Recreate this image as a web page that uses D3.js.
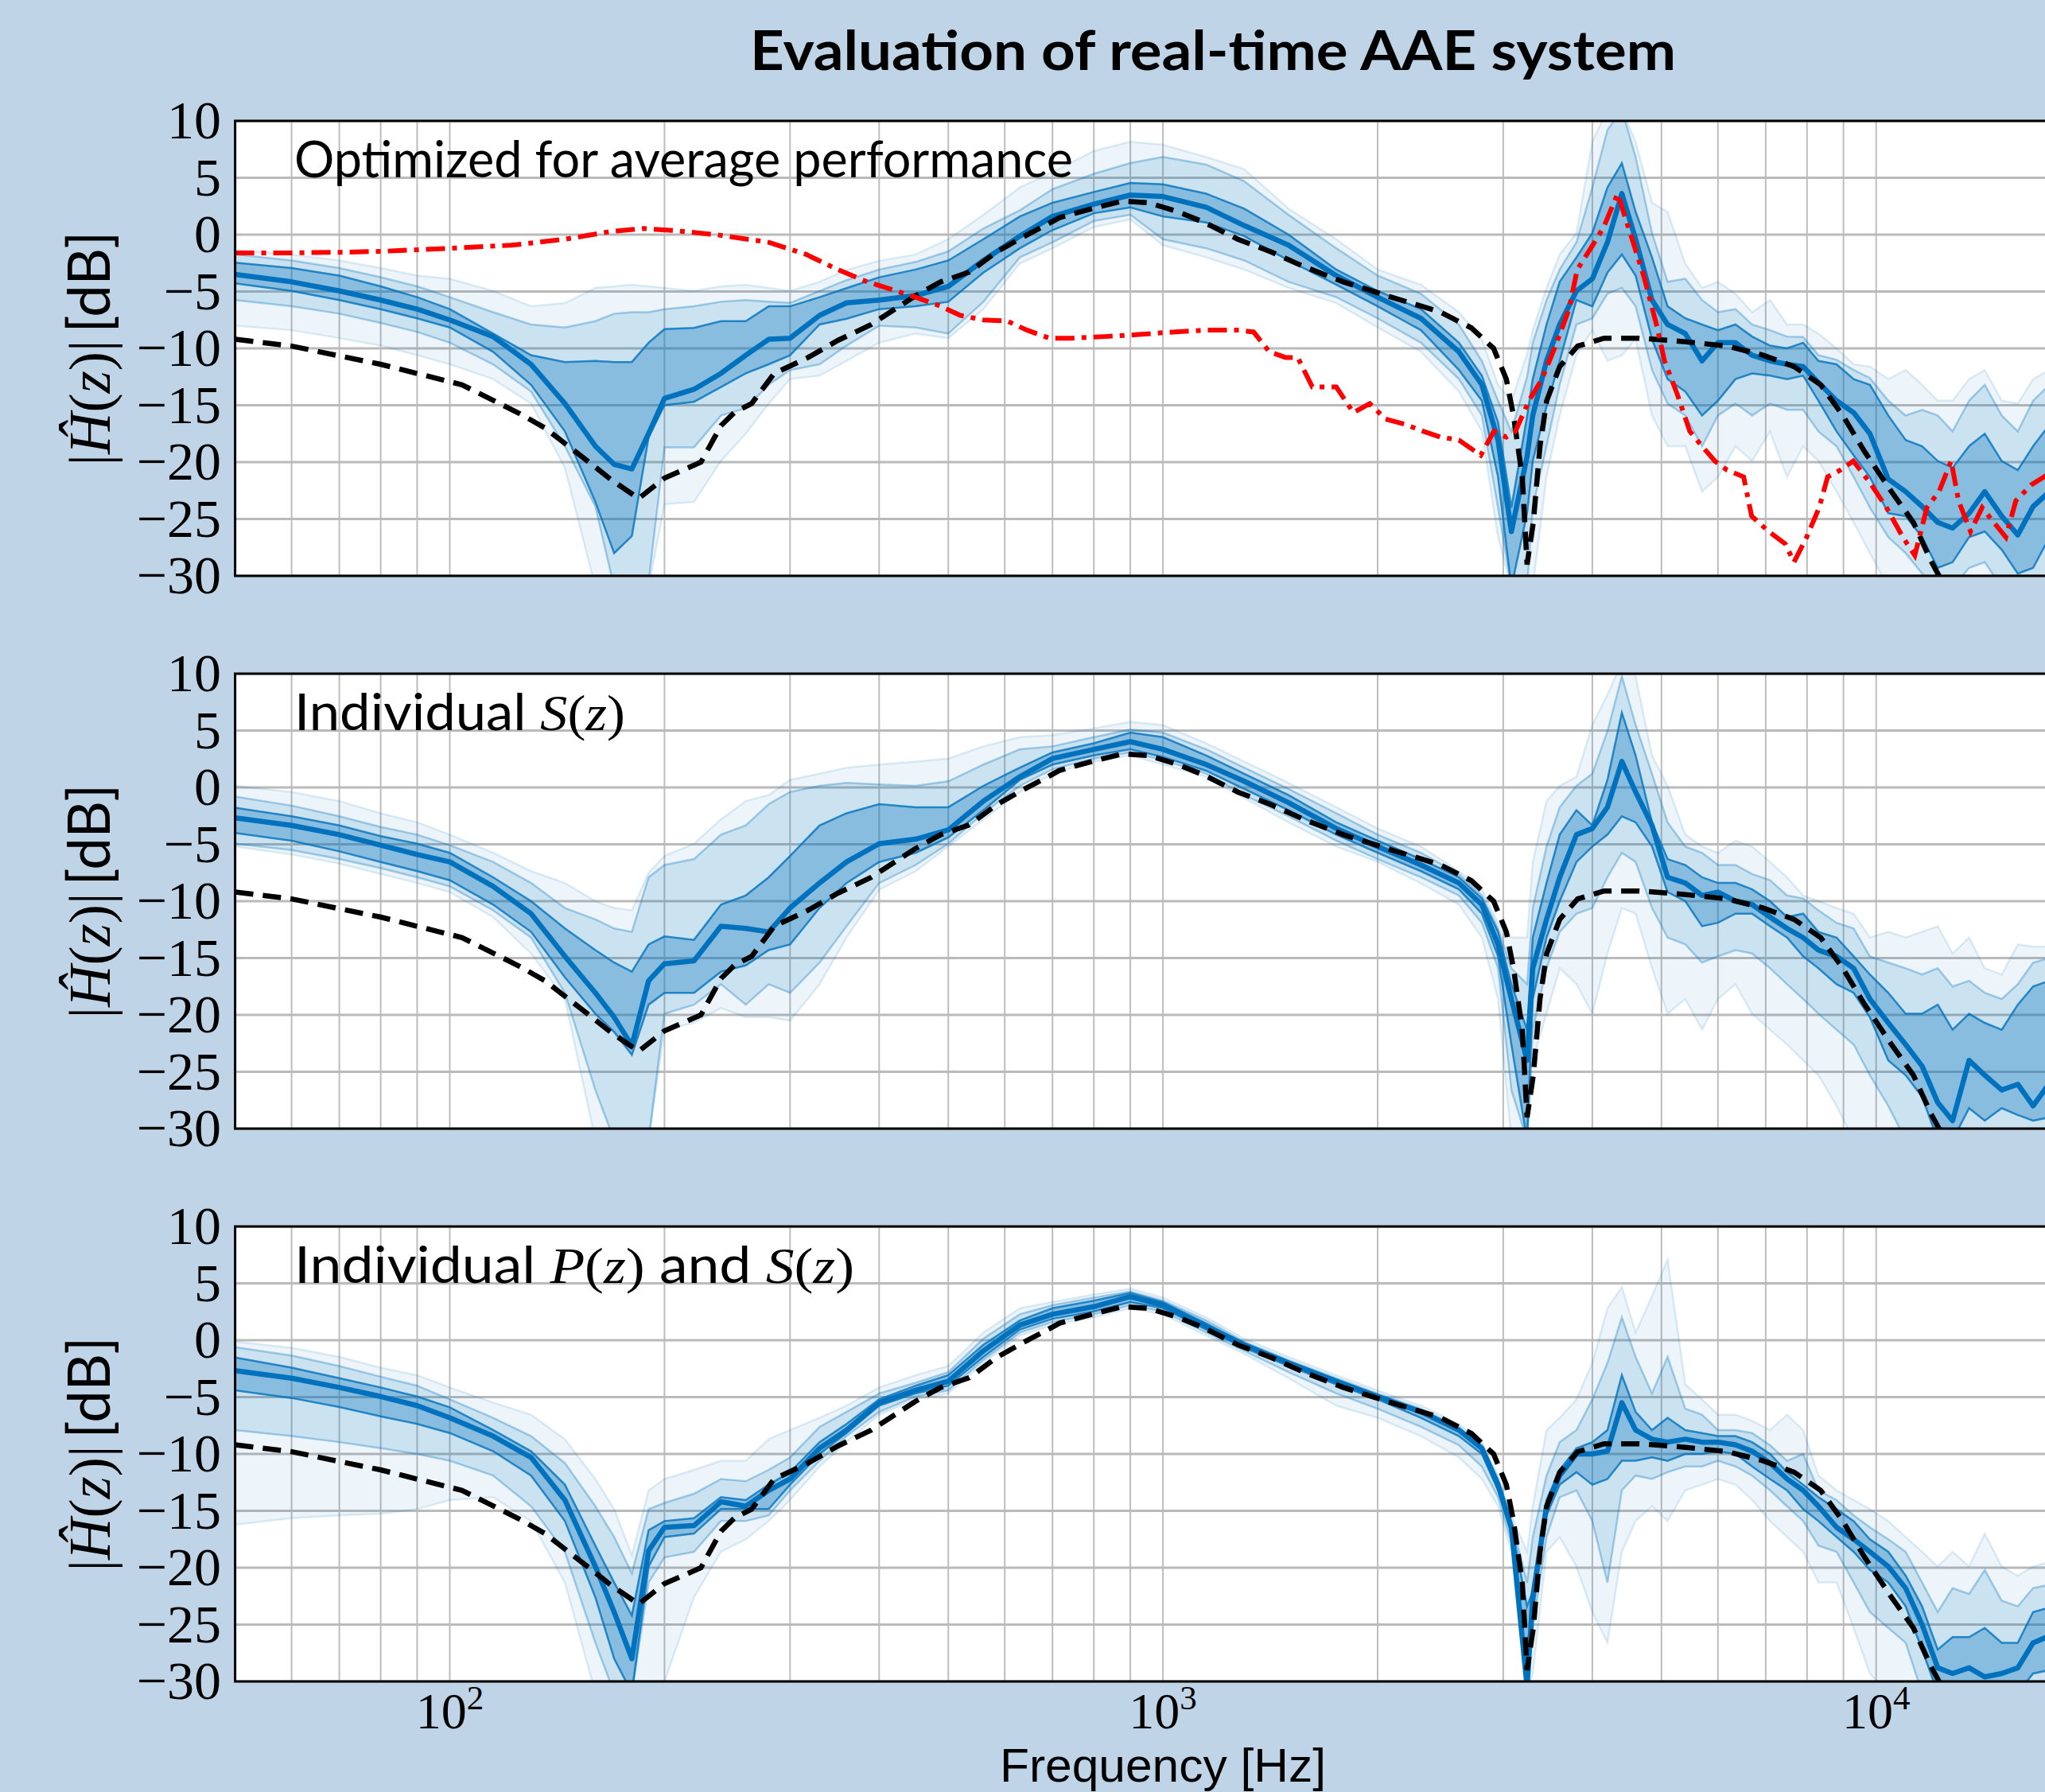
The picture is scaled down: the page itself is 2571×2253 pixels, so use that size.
<!DOCTYPE html>
<html>
<head>
<meta charset="utf-8">
<title>Evaluation of real-time AAE system</title>
<script src="https://cdn.jsdelivr.net/npm/d3@7"></script>
<style>
  body { margin: 0; background: #bfd4e7; }
  svg { display: block; }
</style>
</head>
<body>
<script>
// frequency grid shared by the median / percentile bands [Hz]
var freq = [50, 60, 70, 80, 90, 100, 115, 130, 145, 160,
    170, 180, 190, 200, 220, 240, 260, 280, 300, 330,
    360, 400, 450, 500, 560, 630, 700, 800, 900, 1000,
    1150, 1300, 1500, 1750, 2000, 2300, 2600, 2800, 2950, 3080,
    3240, 3300, 3450, 3600, 3800, 4000, 4200, 4400, 4600, 4850,
    5100, 5400, 5700, 6000, 6350, 6700, 7100, 7500, 7900, 8300,
    8800, 9300, 9800, 10400, 11000, 11600, 12200, 12800, 13500, 14200,
    15000, 15800, 16600, 17500, 18500];

// top panel: optimized for average performance [dB]
var topMedian = [-3.5, -4.15, -4.95, -5.75, -6.55, -7.5, -8.96, -11.4, -14.85, -18.6,
    -20.2, -20.6, -17.5, -14.4, -13.6, -12.2, -10.6, -9.2, -9.1, -7.1,
    -6.0, -5.75, -5.35, -4.55, -2.27, -0.13, 1.6, 2.68, 3.48, 3.35,
    2.4, 0.8, -0.93, -3.6, -5.5, -7.36, -10.3, -13.2, -18.06, -26.1,
    -19.5, -15.9, -11.1, -7.9, -4.95, -3.88, -0.67, 3.61, -0.4, -5.75,
    -7.9, -8.7, -11.1, -9.5, -9.5, -10.6, -11.1, -11.4, -11.6, -13.0,
    -14.6, -15.65, -17.5, -21.5, -22.6, -23.9, -25.3, -25.8, -24.5, -22.6,
    -24.75, -26.4, -23.9, -22.6, -22.0];
var topInnerHi = [-2.46, -2.94, -3.6, -4.55, -5.5, -6.55, -8.7, -10.6, -11.2, -11.1,
    -11.2, -11.2, -9.5, -8.3, -8.2, -7.6, -7.6, -6.3, -6.3, -5.5,
    -4.7, -3.75, -3.07, -2.27, -0.4, 1.6, 2.8, 3.75, 4.55, 4.42,
    3.6, 2.28, 0.0, -3.07, -4.95, -6.55, -9.5, -12.4, -16.5, -24.0,
    -16.0, -12.7, -7.9, -4.15, -2.0, 0.14, 4.15, 6.29, 2.01, -2.0,
    -6.3, -7.36, -7.9, -8.4, -7.9, -8.96, -9.76, -10.0, -9.5, -11.1,
    -11.4, -12.7, -13.2, -15.9, -18.06, -18.6, -19.9, -20.5, -18.6, -17.5,
    -19.9, -20.7, -18.6, -16.7, -16.5];
var topInnerLo = [-4.28, -4.95, -5.75, -6.55, -7.36, -8.16, -10.3, -13.2, -17.3, -23.5,
    -28.0, -26.5, -17.8, -15.0, -14.7, -13.4, -12.2, -11.4, -10.6, -7.9,
    -7.4, -6.55, -6.3, -5.9, -3.34, -1.2, 0.4, 1.88, 2.4, 1.6,
    1.07, -0.13, -2.27, -4.4, -6.3, -8.4, -11.9, -14.6, -21.3, -31,
    -24.5, -19.9, -15.1, -11.1, -5.75, -6.3, -3.34, -1.74, -3.6, -9.2,
    -12.7, -13.8, -15.9, -14.6, -12.7, -12.2, -12.4, -12.7, -12.4, -14.6,
    -17.3, -19.4, -21.3, -24.5, -24.75, -26.6, -29.3, -28.8, -26.6, -26.1,
    -27.7, -29.8, -29.3, -26.6, -26.5];
var topMidHi = [-1.74, -2.27, -2.94, -3.74, -4.55, -5.5, -6.82, -7.9, -8.16, -7.6,
    -6.95, -6.82, -6.82, -6.55, -6.3, -5.9, -5.75, -5.9, -6.0, -4.95,
    -4.0, -3.07, -2.4, -1.47, 0.54, 2.14, 4.0, 5.35, 6.29, 6.83,
    6.16, 4.69, 1.74, -1.2, -3.6, -5.2, -7.9, -11.1, -14.6, -17.3,
    -12.5, -9.5, -5.75, -3.07, -0.67, 4.15, 9.2, 11, 6.83, 0.14,
    -4.15, -3.88, -5.75, -6.82, -6.55, -7.9, -8.4, -8.96, -9.0, -10.6,
    -11.0, -11.9, -12.6, -14.6, -15.9, -15.4, -15.9, -17.3, -14.6, -13.2,
    -15.9, -17.3, -14.6, -13.2, -13];
var topMidLo = [-5.75, -6.3, -6.95, -7.76, -8.56, -9.5, -11.4, -13.8, -18.6, -23.9,
    -31, -31, -30.5, -18.7, -18.7, -15.9, -15.25, -13.2, -11.9, -11.4,
    -9.76, -8.0, -8.16, -8.7, -5.9, -2.0, -0.67, 1.2, 1.74, -0.4,
    -1.2, -2.27, -4.15, -5.5, -7.36, -9.5, -12.7, -15.9, -24.0, -31,
    -31, -24.0, -18.6, -13.2, -7.9, -7.36, -5.2, -4.68, -6.3, -11.9,
    -14.85, -15.9, -18.6, -15.9, -14.85, -15.9, -14.85, -15.4, -15.4, -17.3,
    -18.6, -21.3, -24.0, -26.6, -28.0, -29.8, -31, -31, -29.3, -28.8,
    -31, -31, -31, -30.5, -31];
var topOuterHi = [-1.34, -1.74, -2.27, -2.94, -3.6, -3.88, -4.95, -6.3, -6.02, -4.68,
    -4.55, -4.4, -4.55, -4.68, -4.95, -4.55, -4.4, -4.68, -4.95, -4.15,
    -3.1, -2.3, -1.74, -0.4, 1.74, 4.15, 5.49, 7.36, 8.16, 7.9,
    6.83, 5.76, 2.28, -0.4, -3.07, -4.4, -6.82, -9.2, -13.2, -14.6,
    -10.5, -8.4, -4.68, -1.74, 0.14, 8.16, 11, 11, 8.16, 2.81,
    2.0, -2.54, -4.68, -4.15, -5.2, -6.82, -5.75, -7.9, -7.9, -8.7,
    -10.0, -11.4, -11.6, -12.7, -11.9, -13.2, -14.6, -14.6, -12.7, -11.9,
    -14.6, -14.85, -12.7, -11.9, -12];
var topOuterLo = [-8.0, -8.4, -9.1, -9.76, -10.6, -11.4, -12.7, -14.85, -20.5, -31,
    -31, -31, -31, -23.7, -23.5, -19.9, -17.5, -14.85, -12.7, -12.4,
    -11.1, -9.5, -8.7, -9.1, -6.55, -2.54, -1.2, 0.67, 1.34, -0.93,
    -2.0, -3.07, -4.68, -6.02, -8.16, -10.3, -13.8, -17.3, -26.6, -31,
    -31, -31, -21.3, -15.9, -10.6, -8.4, -11.1, -10.6, -9.2, -15.9,
    -18.6, -18.6, -22.6, -21.3, -18.6, -19.9, -17.3, -21.3, -18.6, -19.9,
    -22.6, -25.3, -28.0, -31, -31, -31, -31, -31, -31, -31,
    -31, -31, -31, -31, -31];

// middle panel: individual S(z)
var midMedian = [-2.67, -3.34, -4.15, -5.08, -5.9, -6.55, -8.7, -11.1, -14.85, -18.06,
    -20.2, -22.7, -17.0, -15.5, -15.25, -12.2, -12.4, -12.7, -10.6, -8.4,
    -6.55, -4.95, -4.55, -3.74, -1.2, 0.94, 2.54, 3.35, 4.02, 3.35,
    2.01, 0.54, -1.34, -3.61, -5.2, -6.82, -8.4, -10.3, -13.8, -18.6,
    -24.0, -15.9, -11.6, -7.9, -4.15, -3.61, -1.74, 2.28, -0.4, -3.34,
    -7.9, -8.4, -9.5, -9.2, -10.0, -10.3, -11.4, -12.4, -13.2, -14.3,
    -14.85, -15.9, -18.6, -20.7, -22.6, -24.5, -27.7, -29.3, -24.0, -25.3,
    -26.6, -26.1, -28.0, -26, -26];
var midInnerHi = [-1.79, -2.54, -3.34, -4.28, -4.95, -5.75, -7.9, -10.0, -12.4, -14.3,
    -15.4, -16.2, -13.8, -13.1, -13.4, -10.3, -9.5, -7.9, -6.02, -3.34,
    -2.27, -1.47, -1.74, -1.74, 0.14, 1.74, 3.08, 3.88, 4.82, 4.42,
    2.81, 1.2, -0.67, -3.07, -4.68, -6.3, -7.9, -9.76, -12.7, -17.3,
    -21.3, -13.2, -8.4, -4.15, -2.0, -3.34, 0.67, 6.56, 2.81, -3.07,
    -6.3, -6.82, -7.9, -8.4, -8.4, -8.96, -10.0, -11.4, -11.1, -12.7,
    -13.2, -14.85, -16.45, -18.06, -19.9, -19.9, -19.1, -21.3, -19.9, -20.7,
    -21.3, -19.1, -17.5, -17, -17];
var midInnerLo = [-4.0, -4.68, -5.62, -6.55, -7.36, -8.16, -10.3, -12.7, -16.7, -19.9,
    -21.5, -23.5, -19.1, -18.06, -18.06, -16.2, -15.65, -14.3, -13.8, -10.6,
    -8.4, -6.55, -5.75, -4.4, -2.0, 0.67, 2.01, 2.81, 3.35, 2.68,
    1.47, -0.13, -2.0, -4.15, -5.75, -7.36, -8.96, -11.1, -14.85, -22.6,
    -31, -18.6, -13.2, -10.0, -6.55, -5.2, -4.15, -2.54, -3.07, -5.2,
    -9.2, -10.0, -12.2, -11.9, -11.1, -11.1, -12.2, -13.2, -14.85, -15.9,
    -17.3, -18.06, -20.2, -24.0, -25.3, -27.2, -31, -31, -28.2, -29.3,
    -28.2, -28.8, -29.3, -29, -29];
var midMidHi = [-0.8, -1.6, -2.54, -3.48, -4.15, -5.08, -6.55, -8.4, -10.6, -11.6,
    -12.4, -12.7, -7.9, -6.82, -6.3, -4.15, -3.34, -1.47, -0.4, 0.14,
    0.4, 0.27, 0.14, 0.54, 2.01, 3.35, 3.61, 4.42, 5.09, 4.82,
    3.35, 1.74, -0.13, -2.27, -4.15, -5.75, -7.62, -9.5, -12.4, -15.9,
    -17.3, -10.6, -5.2, -1.74, 0.14, 1.2, 4.95, 9.77, 5.49, 1.2,
    -3.07, -5.2, -5.75, -6.82, -6.82, -7.62, -8.16, -9.5, -9.76, -10.8,
    -11.9, -12.4, -14.85, -15.4, -15.9, -16.45, -15.9, -17.5, -17.0, -18.06,
    -18.6, -17.3, -15.4, -15, -15];
var midMidLo = [-4.95, -5.5, -6.3, -7.1, -7.9, -8.7, -10.8, -13.2, -18.06, -26.6,
    -31, -31, -31, -19.9, -19.1, -17.3, -19.1, -17.3, -18.06, -15.4,
    -12.2, -8.4, -6.82, -4.95, -2.27, 0.14, 1.6, 2.54, 3.08, 2.41,
    1.2, -0.67, -2.54, -4.68, -6.3, -7.9, -9.5, -11.9, -15.9, -26.6,
    -31, -21.3, -15.9, -12.7, -11.1, -10.6, -7.9, -5.75, -6.55, -10.6,
    -13.2, -13.8, -15.4, -14.85, -14.3, -14.6, -15.9, -17.3, -18.6, -19.9,
    -21.3, -22.6, -25.3, -28.0, -31, -31, -31, -31, -31, -31,
    -31, -31, -31, -31, -31];
var midOuterHi = [0.14, -0.4, -1.2, -2.27, -3.07, -4.15, -5.75, -7.36, -8.4, -10.0,
    -10.6, -10.8, -7.5, -6.02, -4.95, -2.81, -1.2, -0.67, 0.67, 1.2,
    1.74, 2.01, 2.28, 2.54, 3.61, 4.42, 4.6, 5.2, 5.76, 5.49,
    3.88, 2.28, 0.4, -1.74, -3.61, -5.2, -7.36, -8.96, -11.9, -13.2,
    -13.2, -6.55, -1.2, 0.14, 0.94, 5.49, 8.16, 11, 9.77, 2.81,
    0.14, -4.15, -5.2, -5.75, -4.68, -5.2, -6.55, -7.9, -9.5, -10.0,
    -10.6, -11.1, -13.2, -12.7, -13.2, -12.7, -12.2, -14.6, -13.2, -15.9,
    -16.45, -13.8, -14.0, -14, -14];
var midOuterLo = [-5.2, -5.9, -6.7, -7.6, -8.4, -9.2, -11.4, -14.6, -18.6, -31,
    -31, -31, -31, -21.3, -20.7, -19.4, -20.2, -20.2, -20.5, -17.3,
    -13.2, -9.0, -7.36, -5.2, -2.81, -0.4, 1.2, 2.28, 2.81, 2.01,
    0.94, -0.93, -3.07, -5.2, -6.55, -8.43, -10.3, -13.2, -18.6, -31,
    -31, -24.0, -19.9, -15.9, -17.3, -19.9, -14.6, -10.6, -11.1, -15.9,
    -19.9, -18.6, -21.3, -18.6, -17.3, -19.9, -21.3, -22.6, -24.0, -25.3,
    -28.0, -31, -31, -31, -31, -31, -31, -31, -31, -31,
    -31, -31, -31, -31, -31];

// bottom panel: individual P(z) and S(z)
var botMedian = [-2.67, -3.34, -4.15, -4.95, -5.75, -6.82, -8.43, -10.3, -14.05, -19.9,
    -23.9, -28.0, -18.5, -16.45, -16.3, -14.2, -14.6, -13.2, -12.2, -9.5,
    -7.9, -5.5, -4.4, -3.61, -0.93, 1.34, 2.28, 2.95, 3.83, 3.08,
    1.2, -0.4, -2.0, -3.61, -4.95, -6.3, -7.9, -9.5, -12.7, -16.45,
    -30.5, -22.6, -14.6, -11.9, -10.0, -10.0, -9.76, -5.5, -7.9, -8.7,
    -8.96, -8.7, -8.96, -8.96, -9.2, -9.76, -10.8, -12.2, -13.2, -14.6,
    -16.45, -17.5, -18.6, -19.9, -21.8, -25.0, -28.8, -29.3, -28.8, -29.6,
    -29.3, -28.8, -26.6, -26, -26];
var botInnerHi = [-1.52, -2.41, -3.34, -4.15, -4.95, -5.9, -7.9, -9.76, -12.7, -18.06,
    -21.3, -24.2, -16.7, -15.9, -15.65, -13.8, -14.05, -12.7, -11.6, -8.96,
    -7.36, -5.2, -4.0, -3.07, -0.4, 1.74, 2.81, 3.48, 4.15, 3.35,
    1.47, -0.27, -1.87, -3.48, -4.82, -6.15, -7.76, -9.36, -12.4, -16.2,
    -23.4, -22.1, -14.05, -11.4, -9.5, -8.96, -7.9, -3.07, -6.3, -7.9,
    -6.82, -7.9, -8.16, -8.43, -8.43, -8.96, -10.0, -11.6, -12.7, -13.8,
    -14.85, -15.9, -17.5, -18.6, -20.7, -23.4, -27.2, -26.1, -26.1, -25.3,
    -26.6, -26.6, -23.9, -23.5, -23.5];
var botInnerLo = [-4.41, -5.08, -5.88, -6.69, -7.36, -8.16, -9.76, -11.9, -15.9, -22.6,
    -28.0, -31, -19.9, -17.3, -17.0, -14.85, -14.85, -14.85, -12.7, -10.0,
    -8.16, -5.75, -4.68, -4.0, -1.47, 0.94, 1.88, 2.54, 3.35, 2.81,
    0.94, -0.67, -2.27, -3.88, -5.2, -6.82, -8.43, -10.0, -13.2, -17.0,
    -31, -23.9, -15.4, -12.7, -11.6, -12.7, -12.2, -10.6, -10.6, -10.3,
    -10.6, -10.0, -10.0, -9.76, -10.0, -11.1, -12.2, -13.2, -14.85, -15.9,
    -17.3, -18.6, -20.2, -21.3, -23.4, -27.2, -31, -31, -31, -31,
    -31, -31, -29.3, -29, -29];
var botMidHi = [-0.61, -1.34, -2.27, -3.21, -4.0, -5.2, -6.82, -8.43, -10.8, -14.6,
    -17.3, -20.5, -14.85, -14.3, -13.5, -12.2, -12.4, -11.4, -10.3, -7.62,
    -6.3, -4.68, -3.74, -2.81, 0.14, 2.28, 3.08, 3.75, 4.28, 3.48,
    1.74, -0.13, -1.74, -3.34, -4.68, -6.02, -7.62, -9.23, -12.2, -15.9,
    -21.3, -17.3, -11.9, -8.96, -7.9, -5.2, -2.0, 2.01, -1.47, -4.68,
    -1.47, -6.02, -6.55, -7.9, -7.9, -8.16, -9.23, -10.6, -10.0, -13.2,
    -14.05, -15.4, -16.45, -17.5, -18.6, -21.3, -23.9, -21.8, -22.3, -20.2,
    -22.9, -23.4, -21.8, -21.5, -21.5];
var botMidLo = [-7.9, -8.43, -8.96, -9.5, -10.0, -10.6, -11.9, -14.6, -18.6, -26.6,
    -31, -31, -21.3, -19.1, -18.6, -15.9, -15.9, -15.4, -13.2, -10.6,
    -8.43, -6.3, -4.95, -4.41, -1.74, 0.67, 1.6, 2.28, 3.08, 2.54,
    0.67, -0.93, -2.81, -4.68, -6.02, -7.62, -9.23, -11.1, -13.8, -17.8,
    -31, -25.3, -17.3, -13.8, -13.2, -15.9, -21.3, -13.2, -11.9, -12.2,
    -11.6, -11.1, -11.1, -10.6, -11.1, -11.9, -13.2, -14.6, -15.9, -18.06,
    -18.6, -21.3, -23.9, -25.3, -26.6, -31, -31, -31, -31, -31,
    -31, -31, -31, -31, -31];
var botOuterHi = [-0.13, -0.67, -1.47, -2.41, -3.07, -4.15, -5.48, -6.55, -8.7, -12.2,
    -14.85, -18.9, -13.2, -12.2, -11.4, -10.6, -10.6, -8.7, -7.9, -6.82,
    -5.75, -4.15, -3.07, -2.27, 0.67, 2.81, 3.35, 4.02, 4.55, 3.75,
    2.01, 0.14, -1.47, -3.07, -4.41, -5.75, -7.36, -8.96, -11.9, -15.4,
    -18.6, -14.6, -7.9, -6.82, -5.2, -2.0, 2.81, 4.68, 0.67, 3.88,
    7.09, -3.88, -5.2, -6.55, -6.55, -7.09, -7.9, -6.55, -7.9, -11.9,
    -13.2, -14.05, -14.85, -15.9, -17.3, -18.6, -19.9, -18.6, -19.9, -17.0,
    -19.9, -20.7, -19.9, -19.5, -19.5];
var botOuterLo = [-16.2, -15.65, -15.4, -15.25, -14.85, -14.05, -13.8, -15.9, -21.3, -31,
    -31, -31, -31, -30, -22.6, -18.6, -17.5, -15.9, -14.05, -11.1,
    -8.96, -6.55, -5.2, -4.68, -2.0, 0.4, 1.34, 2.01, 2.81, 2.28,
    0.4, -1.2, -3.34, -5.75, -6.82, -8.43, -10.3, -12.2, -14.6, -18.6,
    -31, -29.3, -18.6, -17.3, -19.9, -23.9, -26.6, -18.6, -15.9, -14.6,
    -15.9, -13.2, -12.7, -12.2, -12.7, -14.05, -15.9, -17.3, -18.6, -21.3,
    -21.3, -25.3, -29.3, -31, -31, -31, -31, -31, -31, -31,
    -31, -31, -31, -31, -31];

// black dashed reference response (same in every panel)
var targetFreq = [50, 60, 80, 104, 125, 136, 156, 168, 184, 200,
    225, 240, 251, 265, 285, 318, 350, 390, 449, 488,
    535, 585, 637, 690, 716, 797, 877, 955, 1051, 1143,
    1273, 1416, 1575, 1790, 2055, 2449, 2707, 2908, 3030, 3101,
    3190, 3240, 3306, 3378, 3452, 3600, 3815, 4155, 4656, 5372,
    6190, 6944, 7672, 8362, 8979, 9640, 10508, 11280, 11940, 12500];
var targetDb = [-9.2, -9.8, -11.4, -13.2, -15.7, -17.0, -19.9, -21.5, -23.2, -21.4,
    -20.0, -16.8, -15.6, -14.85, -12.2, -10.8, -9.3, -7.9, -5.4, -4.15,
    -3.3, -1.5, -0.2, 0.94, 1.5, 2.3, 2.95, 2.8, 2.0, 1.07,
    -0.4, -1.5, -2.8, -4.15, -5.35, -6.8, -8.2, -10.0, -12.7, -15.9,
    -21.3, -29.0, -25.3, -18.6, -14.6, -11.6, -9.8, -9.1, -9.1, -9.4,
    -9.8, -10.6, -11.6, -13.2, -15.9, -19.1, -22.6, -25.3, -28.7, -31];

// red dash-dot curve, top panel only
var redFreq = [50, 60, 70, 80, 100, 122, 145, 168, 187, 207,
    236, 280, 316, 350, 385, 420, 450, 488, 520, 560,
    605, 645, 693, 745, 830, 917, 1010, 1145, 1280, 1340,
    1410, 1485, 1545, 1620, 1750, 1850, 1950, 2050, 2190, 2320,
    2450, 2600, 2790, 2910, 3030, 3120, 3260, 3400, 3550, 3710,
    3810, 3980, 4150, 4340, 4520, 4720, 4920, 5050, 5260, 5480,
    5700, 5940, 6180, 6520, 6690, 7070, 7460, 7670, 7990, 8320,
    8550, 8910, 9290, 9800, 10340, 10900, 11330, 11780, 12250, 12740,
    13050, 13560, 14080, 14620, 15200, 15700, 16500, 17500];
var redDb = [-1.6, -1.6, -1.55, -1.47, -1.2, -0.93, -0.4, 0.27, 0.54, 0.35,
    0.0, -0.67, -1.74, -3.07, -4.15, -4.9, -5.5, -6.3, -7.1, -7.5,
    -7.6, -8.4, -9.1, -9.1, -8.96, -8.8, -8.6, -8.4, -8.4, -8.56,
    -10.3, -10.8, -10.8, -13.4, -13.4, -15.65, -14.85, -16.2, -16.7, -17.3,
    -17.8, -18.06, -19.4, -17.3, -17.8, -17.3, -14.6, -12.7, -9.8, -6.55,
    -3.07, -1.2, 0.67, 3.6, 0.14, -3.6, -7.9, -11.1, -14.0, -17.3,
    -18.6, -19.9, -20.7, -21.3, -24.75, -26.1, -27.2, -28.8, -26.6, -24.0,
    -21.3, -20.7, -19.9, -21.8, -24.0, -26.6, -28.2, -24.0, -22.6, -19.9,
    -23.4, -26.1, -24.0, -25.3, -26.6, -23.4, -22.0, -21.0];

// axis ticks
var yTicks = [-30, -25, -20, -15, -10, -5, 0, 5, 10];
var xLabelTicks = [100, 1000, 10000];
var xLabelExp = ["2", "3", "4"];

// panel labels: [text, font ("s" sans / "m" math), italic]
var topLabel = [["Optimized for average performance", "s"]];
var midLabel = [["Individual ", "s"], ["S", "m", 1], ["(", "m"], ["z", "m", 1], [")", "m"]];
var botLabel = [["Individual ", "s"], ["P", "m", 1], ["(", "m"], ["z", "m", 1], [")", "m"],
    [" and ", "s"], ["S", "m", 1], ["(", "m"], ["z", "m", 1], [")", "m"]];
var yLabel = [["|", "m"], ["\u0124", "m", 1], ["(", "m"], ["z", "m", 1], [")", "m"], ["|", "m"], ["\u2009[dB]", "s"]];

var width = 2571, height = 2253;
var plotLeft = 295.6, plotRight = 2628.6, plotHeight = 572;
var panelTops = [152, 847, 1542];
var blue = "#0072bd";
var sansFont = "Lato, 'Open Sans', 'DejaVu Sans', sans-serif";
var serifFont = "'Liberation Serif', 'DejaVu Serif', serif";

var svg = d3.select("body").append("svg")
    .attr("width", width)
    .attr("height", height);

svg.append("rect")
    .attr("width", width)
    .attr("height", height)
    .attr("fill", "#bfd4e7");

// log frequency axis, 50 Hz .. 20 kHz (right end runs off the picture)
var x = d3.scaleLog().domain([50, 20000]).range([plotLeft, plotRight]);

var panels = [
    {label: topLabel, labelWidth: 979, median: topMedian,
        outer: [topOuterLo, topOuterHi], mid: [topMidLo, topMidHi], inner: [topInnerLo, topInnerHi], red: true},
    {label: midLabel, labelWidth: 416, median: midMedian,
        outer: [midOuterLo, midOuterHi], mid: [midMidLo, midMidHi], inner: [midInnerLo, midInnerHi], red: false},
    {label: botLabel, labelWidth: 704, median: botMedian,
        outer: [botOuterLo, botOuterHi], mid: [botMidLo, botMidHi], inner: [botInnerLo, botInnerHi], red: false}
];

panels.forEach(drawPanel);

// title
svg.append("text")
    .attr("x", 943)
    .attr("y", 88)
    .attr("font-family", sansFont)
    .attr("font-weight", "bold")
    .attr("font-size", 68)
    .attr("textLength", 1164)
    .attr("lengthAdjust", "spacingAndGlyphs")
    .text("Evaluation of real-time AAE system");

// x tick labels under the bottom panel
xLabelTicks.forEach(function(v, k) {
    var t = svg.append("text")
        .attr("x", x(v))
        .attr("y", 2173)
        .attr("text-anchor", "middle")
        .attr("font-family", serifFont)
        .attr("font-size", 64);
    t.append("tspan").text("10");
    t.append("tspan").attr("font-size", 43).attr("dy", -24).text(xLabelExp[k]);
});

svg.append("text")
    .attr("x", 1462)
    .attr("y", 2240)
    .attr("text-anchor", "middle")
    .attr("font-family", "'Liberation Sans', Arial, sans-serif")
    .attr("font-size", 60)
    .attr("textLength", 410)
    .attr("lengthAdjust", "spacingAndGlyphs")
    .text("Frequency [Hz]");


function addParts(text, parts) {
    parts.forEach(function(p) {
        text.append("tspan")
            .attr("font-family", p[1] == "m" ? serifFont : sansFont)
            .attr("font-style", p[2] ? "italic" : "normal")
            .text(p[0]);
    });
}

function drawPanel(p, i) {
    var top = panelTops[i];
    var y = d3.scaleLinear().domain([-30, 10]).range([top + plotHeight, top]);
    var g = svg.append("g");

    svg.append("clipPath").attr("id", "clip" + i)
        .append("rect")
        .attr("x", plotLeft)
        .attr("y", top)
        .attr("width", plotRight - plotLeft)
        .attr("height", plotHeight);

    g.append("rect")
        .attr("x", plotLeft)
        .attr("y", top)
        .attr("width", plotRight - plotLeft)
        .attr("height", plotHeight)
        .attr("fill", "#ffffff");

    // grid: decades and the 2..9 multiples
    g.append("g").selectAll("line")
        .data(x.ticks())
        .enter().append("line")
        .attr("x1", function(d) { return x(d); })
        .attr("x2", function(d) { return x(d); })
        .attr("y1", top)
        .attr("y2", top + plotHeight)
        .attr("stroke", "#bdbdbd")
        .attr("stroke-width", 2);

    g.append("g").selectAll("line")
        .data(yTicks)
        .enter().append("line")
        .attr("x1", plotLeft)
        .attr("x2", plotRight)
        .attr("y1", function(d) { return y(d); })
        .attr("y2", function(d) { return y(d); })
        .attr("stroke", "#bababa")
        .attr("stroke-width", 3);

    var plot = g.append("g").attr("clip-path", "url(#clip" + i + ")");

    var line = d3.line()
        .x(function(d) { return x(d[0]); })
        .y(function(d) { return y(d[1]); });
    var area = d3.area()
        .x(function(d) { return x(d.f); })
        .y0(function(d) { return y(d.lo); })
        .y1(function(d) { return y(d.hi); });

    var bands = [
        {vals: p.outer, fill: 0.07, edge: 0.13},
        {vals: p.mid, fill: 0.14, edge: 0.32},
        {vals: p.inner, fill: 0.33, edge: 0.8}
    ];

    bands.forEach(function(b) {
        var rows = freq.map(function(f, j) { return {f: f, lo: b.vals[0][j], hi: b.vals[1][j]}; });
        plot.append("path")
            .datum(rows)
            .attr("d", area)
            .attr("fill", blue)
            .attr("fill-opacity", b.fill);
    });

    // thin edges of every band
    bands.forEach(function(b) {
        b.vals.forEach(function(v) {
            plot.append("path")
                .datum(d3.zip(freq, v))
                .attr("d", line)
                .attr("fill", "none")
                .attr("stroke", blue)
                .attr("stroke-opacity", b.edge)
                .attr("stroke-width", 2.5);
        });
    });

    plot.append("path")
        .datum(d3.zip(freq, p.median))
        .attr("d", line)
        .attr("fill", "none")
        .attr("stroke", blue)
        .attr("stroke-width", 6.5)
        .attr("stroke-linejoin", "round");

    plot.append("path")
        .datum(d3.zip(targetFreq, targetDb))
        .attr("d", line)
        .attr("fill", "none")
        .attr("stroke", "#000000")
        .attr("stroke-width", 6.5)
        .attr("stroke-dasharray", "23,12");

    if (p.red) {
        plot.append("path")
            .datum(d3.zip(redFreq, redDb))
            .attr("d", line)
            .attr("fill", "none")
            .attr("stroke", "#ff0000")
            .attr("stroke-width", 6)
            .attr("stroke-dasharray", "24,9,6,9");
    }

    // spines (right one lies outside the picture)
    g.append("path")
        .attr("d", "M" + plotRight + "," + top + "H" + plotLeft + "V" + (top + plotHeight) + "H" + plotRight)
        .attr("fill", "none")
        .attr("stroke", "#000000")
        .attr("stroke-width", 3);

    // y tick labels
    g.append("g").selectAll("text")
        .data(yTicks)
        .enter().append("text")
        .attr("x", 278)
        .attr("y", function(d) { return y(d); })
        .attr("dy", "0.33em")
        .attr("text-anchor", "end")
        .attr("font-family", serifFont)
        .attr("font-size", 68)
        .text(function(d) { return d < 0 ? "\u2212" + (-d) : String(d); });

    var yl = g.append("text")
        .attr("transform", "translate(138," + (top + plotHeight / 2) + ") rotate(-90)")
        .attr("text-anchor", "middle")
        .attr("font-size", 74)
        .attr("textLength", 295)
        .attr("lengthAdjust", "spacingAndGlyphs");
    addParts(yl, yLabel);

    var lab = g.append("text")
        .attr("x", 370)
        .attr("y", top + 71.4)
        .attr("font-size", 64)
        .attr("textLength", p.labelWidth)
        .attr("lengthAdjust", "spacingAndGlyphs");
    addParts(lab, p.label);
}
</script>
</body>
</html>
